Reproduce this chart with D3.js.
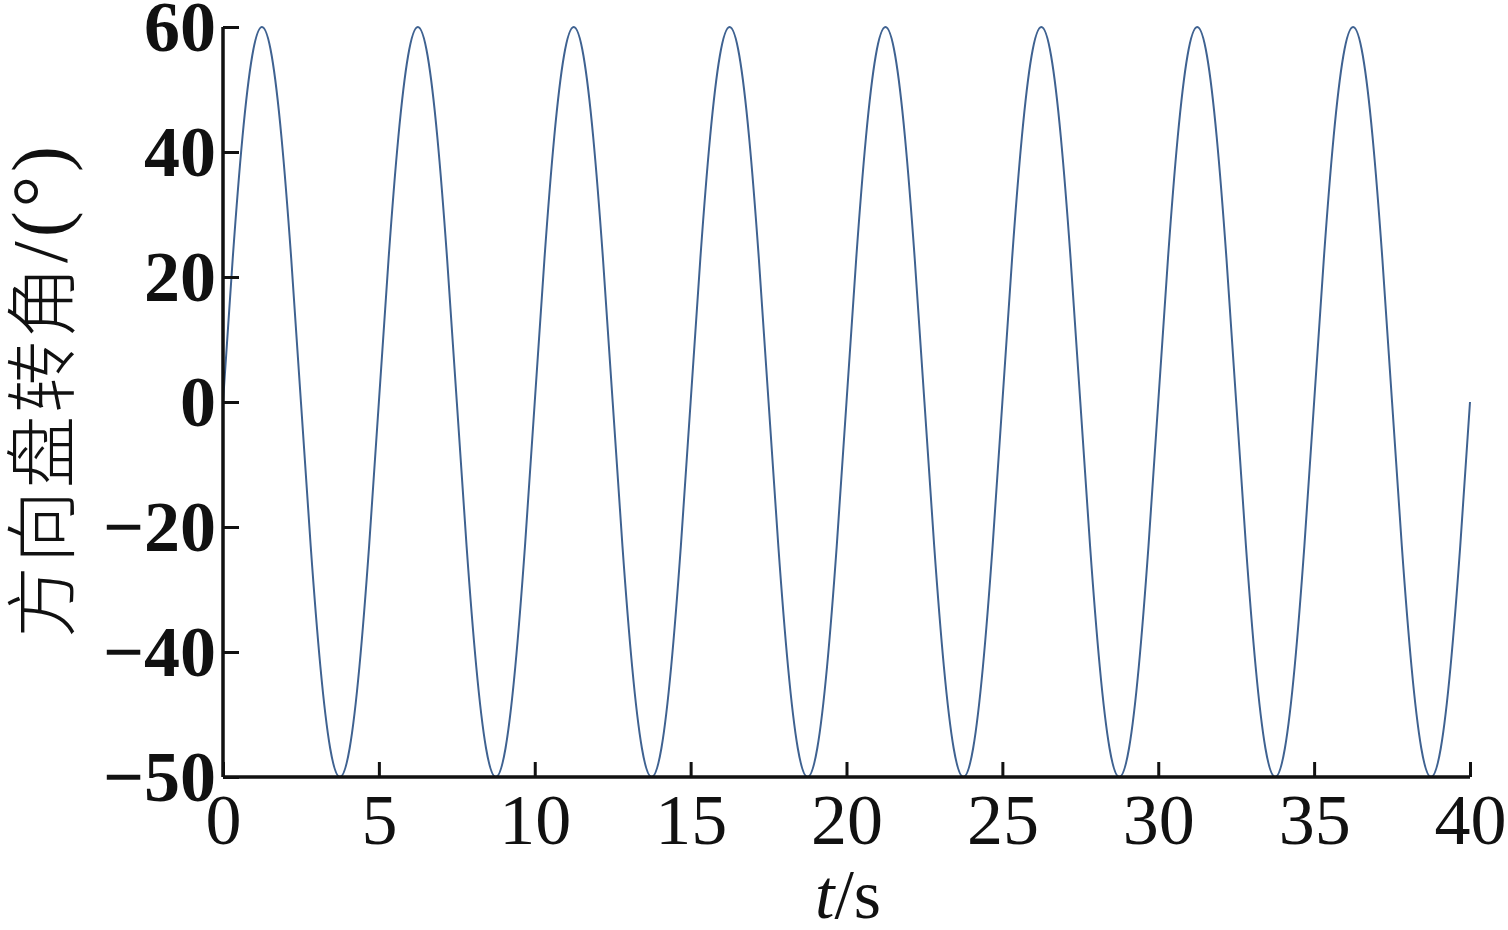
<!DOCTYPE html>
<html>
<head>
<meta charset="utf-8">
<script src="https://cdn.jsdelivr.net/npm/d3@7"></script>
<style>
html,body{margin:0;padding:0;background:#fff;}
svg{display:block;}
</style>
</head>
<body>
<svg id="chart" width="1508" height="930"></svg>
<script>
// Time samples (s), every 0.3125 s from 0 to 40
const timeStep = 0.3125;
const times = d3.range(0, 40 + 1e-9, timeStep);
// Steering wheel angle (°) (on the axis's linear scale)
const angles = [
  0, 23, 42.4, 55.4, 60, 55.4, 42.4, 23, 0, -23, -42.4, -55.4, -60, -55.4, -42.4, -23,
  0, 23, 42.4, 55.4, 60, 55.4, 42.4, 23, 0, -23, -42.4, -55.4, -60, -55.4, -42.4, -23,
  0, 23, 42.4, 55.4, 60, 55.4, 42.4, 23, 0, -23, -42.4, -55.4, -60, -55.4, -42.4, -23,
  0, 23, 42.4, 55.4, 60, 55.4, 42.4, 23, 0, -23, -42.4, -55.4, -60, -55.4, -42.4, -23,
  0, 23, 42.4, 55.4, 60, 55.4, 42.4, 23, 0, -23, -42.4, -55.4, -60, -55.4, -42.4, -23,
  0, 23, 42.4, 55.4, 60, 55.4, 42.4, 23, 0, -23, -42.4, -55.4, -60, -55.4, -42.4, -23,
  0, 23, 42.4, 55.4, 60, 55.4, 42.4, 23, 0, -23, -42.4, -55.4, -60, -55.4, -42.4, -23,
  0, 23, 42.4, 55.4, 60, 55.4, 42.4, 23, 0, -23, -42.4, -55.4, -60, -55.4, -42.4, -23,
  0
];
const xTicks = [0, 5, 10, 15, 20, 25, 30, 35, 40];
const yTicks = [-60, -40, -20, 0, 20, 40, 60];
// tick labels as printed in the reference (bottom tick is printed "−50")
const yTickLabels = ["\u221250", "\u221240", "\u221220", "0", "20", "40", "60"];
const xLabel = "s";
const yLabelCJK = "方向盘转角";
const yLabelUnit = "/(°)";

const svg = d3.select("#chart");
const x = d3.scaleLinear().domain([0, 40]).range([223, 1470]);
const y = d3.scaleLinear().domain([-60, 60]).range([777, 27]);

const data = times.map((t, i) => ({t, v: angles[i]}));

// line
svg.append("path")
  .datum(data)
  .attr("fill", "none")
  .attr("stroke", "#3f6291")
  .attr("stroke-width", 2)
  .attr("d", d3.line().x(d => x(d.t)).y(d => y(d.v)).curve(d3.curveNatural));

// x axis
const xAxis = svg.append("g")
  .attr("transform", `translate(0,${y(-60)})`)
  .call(d3.axisBottom(x).tickValues(xTicks).tickSize(-15).tickFormat(d3.format("d")));
xAxis.select(".domain").attr("stroke", "#111").attr("stroke-width", 3.5).attr("d", `M${x(0)},0H${x(40)}`);
xAxis.selectAll(".tick line").attr("stroke", "#111").attr("stroke-width", 3);
xAxis.selectAll(".tick text")
  .attr("fill", "#111")
  .style("font-family", "'Liberation Serif','DejaVu Serif',serif")
  .style("font-size", "72px")
  .attr("dy", "0.71em")
  .attr("y", 16);

// y axis
const yAxis = svg.append("g")
  .attr("transform", `translate(${x(0)},0)`)
  .call(d3.axisLeft(y).tickValues(yTicks).tickSize(-16).tickFormat((d, i) => yTickLabels[i]));
yAxis.select(".domain").attr("stroke", "#111").attr("stroke-width", 3.5).attr("d", `M0,${y(-60)}V${y(60)}`);
yAxis.selectAll(".tick line").attr("stroke", "#111").attr("stroke-width", 3);
yAxis.selectAll(".tick text")
  .attr("fill", "#111")
  .attr("x", -7)
  .style("font-family", "'Liberation Serif','DejaVu Serif',serif")
  .style("font-size", "72px")
  .style("font-weight", "bold");

// x label
const xl = svg.append("text")
  .attr("x", 848)
  .attr("y", 918)
  .attr("text-anchor", "middle")
  .attr("fill", "#111")
  .style("font-family", "'Liberation Serif','DejaVu Serif',serif")
  .style("font-size", "70px");
xl.append("tspan").style("font-style", "italic").text("t");
xl.append("tspan").text("/" + xLabel);

// y label
const yl = svg.append("text")
  .attr("transform", "translate(68,390) rotate(-90)")
  .attr("text-anchor", "middle")
  .attr("fill", "#111");
yl.append("tspan")
  .style("font-family", "'Noto Sans CJK SC',sans-serif")
  .style("font-weight", "300")
  .style("font-size", "72px")
  .style("letter-spacing", "3px")
  .text(yLabelCJK);
yl.append("tspan")
  .style("font-family", "'Liberation Serif','DejaVu Serif',serif")
  .style("font-size", "78px")
  .style("letter-spacing", "4px")
  .attr("dy", -2)
  .text(yLabelUnit);
</script>
</body>
</html>
